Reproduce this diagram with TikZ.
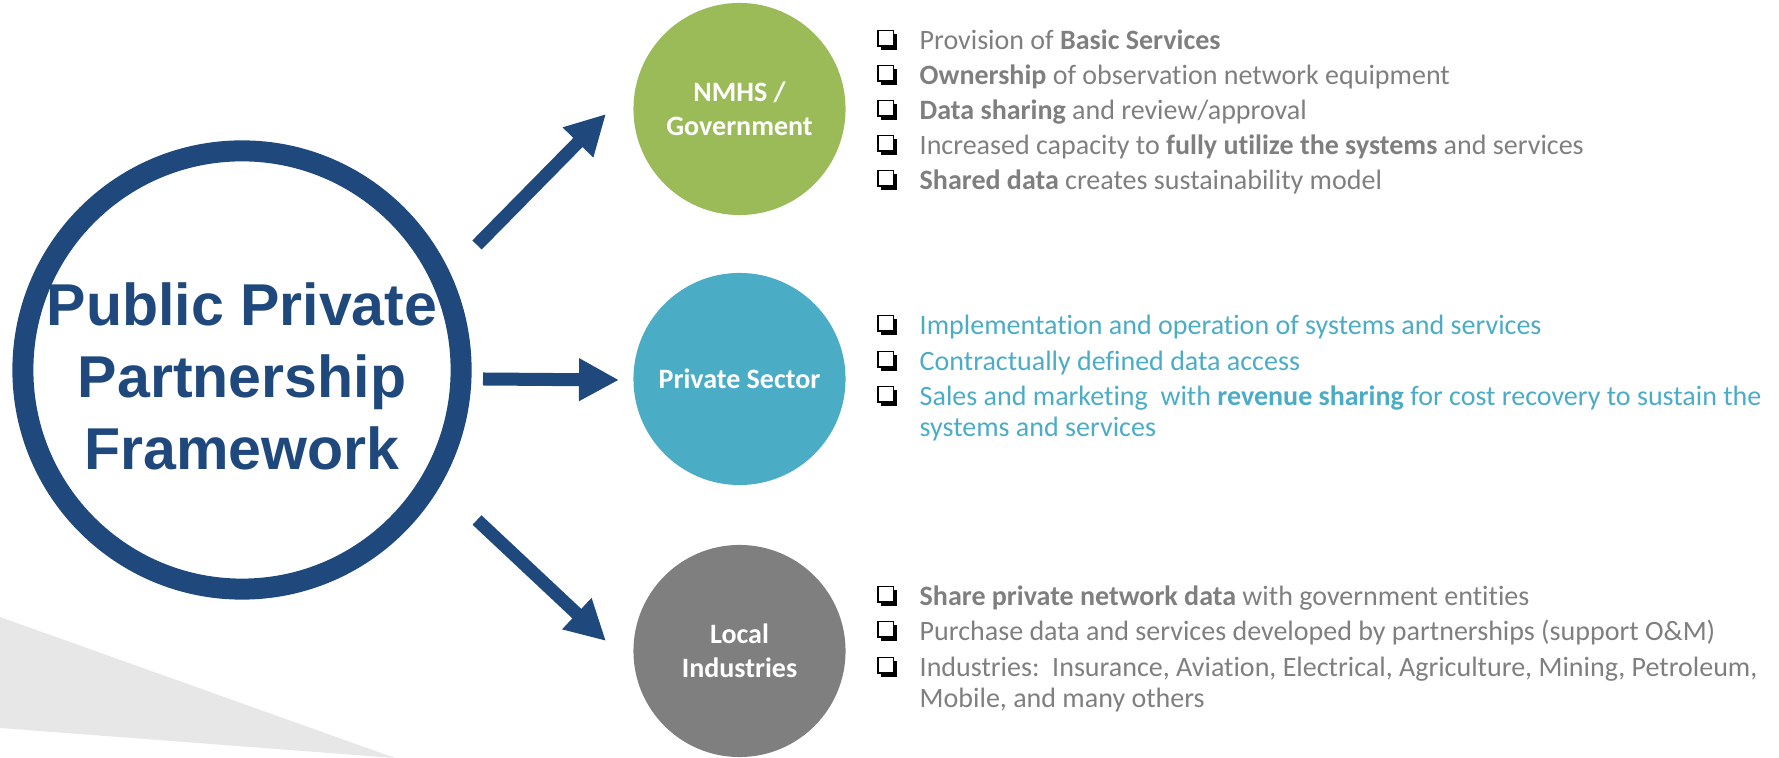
\documentclass[tikz,border=0pt]{standalone}
\usepackage{fontspec}
\setmainfont{Carlito}[Ligatures=CommonOff]
\newfontfamily\headfont{Liberation Sans}
\usetikzlibrary{arrows.meta,positioning,shadows}

\definecolor{navy}{RGB}{31,73,125}
\definecolor{govgreen}{RGB}{155,187,89}
\definecolor{privteal}{RGB}{75,172,198}
\definecolor{locgray}{RGB}{127,127,127}
\definecolor{txtgray}{RGB}{127,127,127}
\definecolor{swoosh}{RGB}{231,231,231}

\begin{document}
\begin{tikzpicture}[x=0.01cm,y=0.01cm,
  party/.style={circle,fill=#1,inner sep=0pt,minimum size=2.12cm,text=white,align=center,
    font=\fontsize{7.97pt}{9.67pt}\selectfont\bfseries},
  bigarrow/.style={navy,line width=0.13cm,-{Triangle[width=0.40cm,length=0.40cm]}},
  item/.style={anchor=base west,inner sep=0pt,text=#1,
    font=\fontsize{7.97pt}{8.68pt}\selectfont},
  chk/.style={draw=black,fill=white,line width=0.018cm,inner sep=0pt,minimum size=0.155cm,
    drop shadow={shadow xshift=0.035cm,shadow yshift=-0.035cm,fill=black,opacity=1}}]

    \useasboundingbox (0,0) rectangle (1779,758);
    \fill[swoosh] (0,141) -- (395,0) -- (0,30) -- cycle;

    % framework ring
    \node[circle,draw=navy,line width=0.21cm,minimum size=4.38cm,inner sep=0pt] (ppp) at (242,388) {};
    \node[text=navy,align=center,font=\headfont\fontsize{16.8pt}{20.5pt}\selectfont\bfseries]
        (ppp-txt) at ([yshift=-0.06cm]ppp.center) {Public Private\\Partnership\\Framework};

    % the three parties
    \node[party=govgreen] (gov) at (739.5,649) {NMHS /\\Government};
    \node[party=privteal] (priv) at (739.5,379) {Private Sector};
    \node[party=locgray] (loc) at (739.5,107) {Local\\Industries};

    \coordinate (up-start) at ([shift={(235,125)}]ppp.center);
    \coordinate (mid-start) at ([shift={(241,-9)}]ppp.center);
    \coordinate (low-start) at ([shift={(235,-150)}]ppp.center);
    \coordinate (gov-in) at ([shift={(-133.5,-5)}]gov.center);
    \coordinate (priv-in) at ([shift={(-120.5,-1)}]priv.center);
    \coordinate (loc-in) at ([shift={(-133.5,10)}]loc.center);

    \draw[bigarrow] (up-start) -- (gov-in);
    \draw[bigarrow] (mid-start) -- (priv-in);
    \draw[bigarrow] (low-start) -- (loc-in);

    % government list
    \node[item=txtgray] (g1) at (919,708) {Provision of \textbf{Basic Services}};
    \node[item=txtgray] (g2) at (919,673) {\textbf{Ownership} of observation network equipment};
    \node[item=txtgray] (g3) at (919,638) {\textbf{Data sharing} and review/approval};
    \node[item=txtgray] (g4) at (919,603) {Increased capacity to \textbf{fully utilize the systems} and services};
    \node[item=txtgray] (g5) at (919,568) {\textbf{Shared data} creates sustainability model};

    % private sector list
    \node[item=privteal] (p1) at (919,423) {Implementation and operation of systems and services};
    \node[item=privteal] (p2) at (919,387) {Contractually defined data access};
    \node[item=privteal] (p3) at (919,352) {\begin{tabular}[t]{@{}l@{}}Sales and marketing\ \ with \textbf{revenue sharing} for cost recovery to sustain the\\systems and services\end{tabular}};

    % local industries list
    \node[item=txtgray] (l1) at (919,152) {\textbf{Share private network data} with government entities};
    \node[item=txtgray] (l2) at (919,117) {Purchase data and services developed by partnerships (support O\&M)};
    \node[item=txtgray] (l3) at (919,81) {\begin{tabular}[t]{@{}l@{}}Industries:\ \ Insurance, Aviation, Electrical, Agriculture, Mining, Petroleum,\\Mobile, and many others\end{tabular}};

    % check boxes
    \node[chk,anchor=south west] (bg1) at ([shift={(-42,3)}]g1.base west) {};
    \node[chk,anchor=south west] (bg2) at ([shift={(-42,3)}]g2.base west) {};
    \node[chk,anchor=south west] (bg3) at ([shift={(-42,3)}]g3.base west) {};
    \node[chk,anchor=south west] (bg4) at ([shift={(-42,3)}]g4.base west) {};
    \node[chk,anchor=south west] (bg5) at ([shift={(-42,3)}]g5.base west) {};
    \node[chk,anchor=south west] (bp1) at ([shift={(-42,3)}]p1.base west) {};
    \node[chk,anchor=south west] (bp2) at ([shift={(-42,3)}]p2.base west) {};
    \node[chk,anchor=south west] (bp3) at ([shift={(-42,3)}]p3.base west) {};
    \node[chk,anchor=south west] (bl1) at ([shift={(-42,3)}]l1.base west) {};
    \node[chk,anchor=south west] (bl2) at ([shift={(-42,3)}]l2.base west) {};
    \node[chk,anchor=south west] (bl3) at ([shift={(-42,3)}]l3.base west) {};
\end{tikzpicture}
\end{document}
